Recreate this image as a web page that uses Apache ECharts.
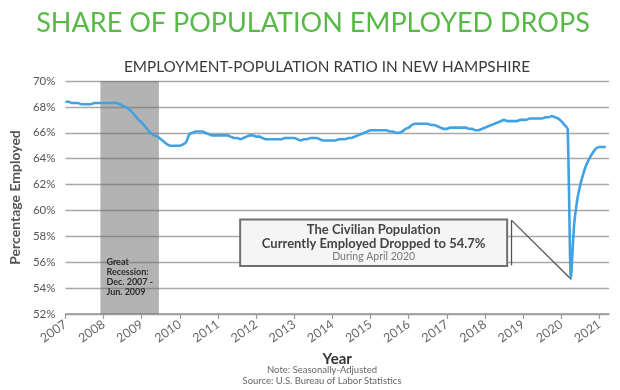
<!DOCTYPE html>
<html><head><meta charset="utf-8">
<script src="https://cdn.jsdelivr.net/npm/echarts@6/dist/echarts.min.js"></script>
<style>html,body{margin:0;padding:0;background:#fff}#c{width:620px;height:390px}</style>
</head><body><div id="c"></div>
<script>
// Employment-population ratio, monthly values (%), Jan of each year onward
var startYear = 2007;
var y2007 = [68.4,68.4,68.3,68.3,68.3,68.2,68.2,68.2,68.2,68.3,68.3,68.3];
var y2008 = [68.3,68.3,68.3,68.3,68.3,68.2,68.1,68.0,67.8,67.6,67.3,67.0];
var y2009 = [66.8,66.5,66.2,65.95,65.8,65.7,65.5,65.3,65.1,65.0,65.0,65.0];
var y2010 = [65.0,65.1,65.3,65.9,66.0,66.1,66.1,66.1,66.0,65.9,65.8,65.8];
var y2011 = [65.8,65.8,65.8,65.8,65.7,65.6,65.6,65.5,65.6,65.7,65.8,65.8];
var y2012 = [65.7,65.7,65.6,65.5,65.5,65.5,65.5,65.5,65.5,65.6,65.6,65.6];
var y2013 = [65.6,65.5,65.4,65.5,65.5,65.6,65.6,65.6,65.5,65.4,65.4,65.4];
var y2014 = [65.4,65.4,65.5,65.5,65.5,65.6,65.6,65.7,65.8,65.9,66.0,66.1];
var y2015 = [66.2,66.2,66.2,66.2,66.2,66.2,66.1,66.1,66.0,66.0,66.1,66.3];
var y2016 = [66.4,66.6,66.7,66.7,66.7,66.7,66.7,66.6,66.6,66.5,66.4,66.3];
var y2017 = [66.3,66.4,66.4,66.4,66.4,66.4,66.4,66.3,66.3,66.2,66.2,66.3];
var y2018 = [66.4,66.5,66.6,66.7,66.8,66.9,67.0,66.9,66.9,66.9,66.9,67.0];
var y2019 = [67.0,67.0,67.1,67.1,67.1,67.1,67.1,67.2,67.2,67.3,67.2,67.1];
var y2020 = [66.9,66.6,66.3,54.7,58.8,60.8,62.0,62.9,63.6,64.1,64.5,64.8];
var y2021 = [64.9,64.9,64.9];
var yearTicks = [2007,2008,2009,2010,2011,2012,2013,2014,2015,2016,2017,2018,2019,2020,2021];
var yTickLabels = ['52%','54%','56%','58%','60%','62%','64%','66%','68%','70%'];
var recession = [2007 + 11/12, 2009 + 5.4/12]; // Dec 2007 - Jun 2009
var lowPoint = [2020 + 3/12, 54.7];           // April 2020
var noteX = 2018.69, noteTop = 59.25, noteBottom = 55.75;

var years = [y2007,y2008,y2009,y2010,y2011,y2012,y2013,y2014,y2015,y2016,y2017,y2018,y2019,y2020,y2021];
var data = [];
years.forEach(function(arr, i){
  arr.forEach(function(v, m){ data.push([startYear + i + m/12, v]); });
});

var chart = echarts.init(document.getElementById('c'), null, {renderer:'canvas'});
var FONT = 'Lato';
chart.setOption({
  animation:false,
  backgroundColor:'#fff',
  title:[
    {text:'SHARE OF POPULATION EMPLOYED DROPS', left:308, textAlign:'center', top:5,
     textStyle:{color:'#58b947', fontFamily:FONT, fontSize:27, fontWeight:'normal'}},
    {text:'EMPLOYMENT-POPULATION RATIO IN NEW HAMPSHIRE', left:322, textAlign:'center', top:55,
     textStyle:{color:'#3a3a3a', fontFamily:FONT, fontSize:15.3, fontWeight:'normal'}},
    {text:'Note: Seasonally-Adjusted', left:317, textAlign:'center', top:360,
     textStyle:{color:'#666', fontFamily:FONT, fontSize:9.5, fontWeight:'normal'}},
    {text:'Source: U.S. Bureau of Labor Statistics', left:317, textAlign:'center', top:371,
     textStyle:{color:'#666', fontFamily:FONT, fontSize:9.5, fontWeight:'normal'}}
  ],
  grid:{left:63, right:11, top:81, bottom:76},
  xAxis:{
    type:'value', min:2007, max:2021.25, interval:1,
    name:'Year', nameLocation:'middle', nameGap:37,
    nameTextStyle:{color:'#333', fontFamily:FONT, fontSize:15, fontWeight:'bold'},
    axisLine:{show:true, lineStyle:{color:'#999', width:1.5}},
    axisTick:{show:true, customValues:yearTicks, length:5, lineStyle:{color:'#999', width:1.2}},
    axisLabel:{customValues:yearTicks, rotate:35, color:'#666', fontFamily:FONT, fontSize:12.5, margin:9,
      formatter:function(v){return String(Math.round(v));}},
    splitLine:{show:false}
  },
  yAxis:{
    type:'value', min:52, max:70, interval:2,
    name:'Percentage Employed', nameLocation:'middle', nameGap:40,
    nameTextStyle:{color:'#555', fontFamily:FONT, fontSize:14, fontWeight:'bold'},
    axisLine:{show:false}, axisTick:{show:false},
    axisLabel:{color:'#555', fontFamily:FONT, fontSize:11.5, margin:10,
      formatter:function(v){return yTickLabels[Math.round((v-52)/2)];}},
    splitLine:{lineStyle:{color:'#a8a8a8', width:1.3}}
  },
  series:[{
    type:'line', data:data, showSymbol:false, smooth:0.2,
    lineStyle:{color:'#41a1e1', width:2.6}, itemStyle:{color:'#41a1e1'},
    z:5,
    markArea:{
      silent:true,
      itemStyle:{color:'rgba(110,110,110,0.52)'},
      label:{show:true, position:'insideBottomLeft', offset:[1,-12],
        formatter:'Great\nRecession:\nDec. 2007 -\nJun. 2009',
        color:'#2a2a2a', fontFamily:FONT, fontSize:9, fontWeight:'bold', lineHeight:10},
      data:[[{xAxis:recession[0], yAxis:70},{xAxis:recession[1], yAxis:52}]]
    },
    markLine:{
      silent:true, symbol:'none', animation:false,
      lineStyle:{color:'#555', width:1.3, type:'solid'},
      label:{show:false},
      data:[
        [{coord:[noteX, noteTop]},{coord:[noteX, noteBottom]}],
        [{coord:[noteX, noteTop]},{coord:lowPoint}]
      ]
    }
  }]
});

// Annotation box
var tl = chart.convertToPixel({gridIndex:0}, [2011.58, 59.3]);
var br = chart.convertToPixel({gridIndex:0}, [2018.58, 55.7]);
var cx = (tl[0]+br[0])/2;
chart.setOption({graphic:[
  {type:'rect', shape:{x:tl[0], y:tl[1], width:br[0]-tl[0], height:br[1]-tl[1]},
   style:{fill:'#f5f5f5', stroke:'#6f6f6f', lineWidth:2}, z:10},
  {type:'text', x:cx, y:tl[1]+10.5, z:11,
   style:{text:'The Civilian Population', fill:'#444', font:'bold 13px '+FONT, textAlign:'center', textVerticalAlign:'middle'}},
  {type:'text', x:cx, y:tl[1]+24.5, z:11,
   style:{text:'Currently Employed Dropped to 54.7%', fill:'#444', font:'bold 13px '+FONT, textAlign:'center', textVerticalAlign:'middle'}},
  {type:'text', x:cx, y:tl[1]+37, z:11,
   style:{text:'During April 2020', fill:'#777', font:'10.5px '+FONT, textAlign:'center', textVerticalAlign:'middle'}}
]});
</script></body></html>
